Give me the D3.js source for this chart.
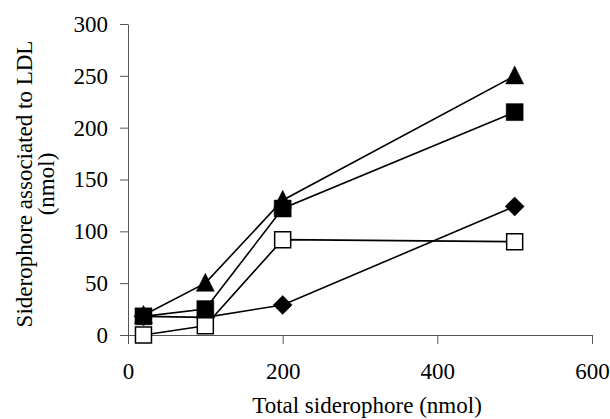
<!DOCTYPE html>
<html lang="en">
<head>
    <meta charset="UTF-8">
    <title>Siderophore associated to LDL</title>
    <script src="https://d3js.org/d3.v7.min.js"></script>
    <style>
        body { margin: 0; background: #fff; }
        text { font-family: "Liberation Serif", "Times New Roman", serif; fill: #000; }
    </style>
</head>
<body>
    <div id="my_dataviz"></div>
<script>
    // Data
    const totalSiderophore = [20, 100, 200, 500];
    const triangleSeries = [19, 50, 130, 250];
    const filledSquareSeries = [18, 25, 122, 215];
    const diamondSeries = [18, 17, 29, 124];
    const openSquareSeries = [0, 9, 92, 90];
    const xTicks = [0, 200, 400, 600];
    const yTicks = [0, 50, 100, 150, 200, 250, 300];

    const W = 610, H = 419;
    const margin = {top: 24, right: 18, bottom: 84, left: 128};

    const svg = d3.select("#my_dataviz")
        .append("svg")
            .attr("width", W)
            .attr("height", H);

    const x = d3.scaleLinear().domain([0, 600]).range([margin.left, W - margin.right]);
    const y = d3.scaleLinear().domain([0, 300]).range([H - margin.bottom, margin.top]);

    // custom marker shapes (Excel-like)
    const triangle = {
        draw(ctx, s) {
            ctx.moveTo(0, -s * 0.55);
            ctx.lineTo(s * 0.5, s * 0.45);
            ctx.lineTo(-s * 0.5, s * 0.45);
            ctx.closePath();
        }
    };
    const square = {
        draw(ctx, s) {
            ctx.rect(-s / 2, -s / 2, s, s);
        }
    };
    const diamond = {
        draw(ctx, s) {
            ctx.moveTo(0, -s / 2);
            ctx.lineTo(s / 2, 0);
            ctx.lineTo(0, s / 2);
            ctx.lineTo(-s / 2, 0);
            ctx.closePath();
        }
    };

    // Y axis
    const yAxis = svg.append("g")
        .attr("transform", `translate(${x(0)},0)`)
        .call(d3.axisLeft(y).tickValues(yTicks).tickSize(8).tickPadding(12).tickSizeOuter(0));

    // X axis
    const xAxis = svg.append("g")
        .attr("transform", `translate(0,${y(0)})`)
        .call(d3.axisBottom(x).tickValues(xTicks).tickSize(9).tickPadding(19).tickSizeOuter(0));

    [xAxis, yAxis].forEach(a => {
        a.attr("font-size", null).attr("font-family", null);
        a.select(".domain").attr("stroke", "#555").attr("stroke-width", 1);
        a.selectAll(".tick line").attr("stroke", "#555").attr("stroke-width", 1);
        a.selectAll(".tick text")
            .style("font-size", "23px")
            .attr("fill", "#000");
    });
    // the y=0 tick line sits on the x axis, extend the x domain left
    yAxis.selectAll(".tick line").attr("x1", 0);

    // Axis titles
    svg.append("text")
        .attr("x", 367)
        .attr("y", 413)
        .attr("text-anchor", "middle")
        .style("font-size", "23px")
        .text("Total siderophore (nmol)");

    const yTitle = svg.append("text")
        .attr("transform", "translate(32,184) rotate(-90)")
        .attr("text-anchor", "middle")
        .style("font-size", "23px");
    yTitle.append("tspan").attr("x", 0).attr("y", 0).text("Siderophore associated to LDL");
    yTitle.append("tspan").attr("x", 0).attr("y", 22).text("(nmol)");

    // marker drawing order follows the overlaps seen in the picture
    const series = [
        {values: diamondSeries, shape: diamond, size: 19, fill: "#000"},
        {values: openSquareSeries, shape: square, size: 16, fill: "#fff"},
        {values: triangleSeries, shape: triangle, size: 18, fill: "#000"},
        {values: filledSquareSeries, shape: square, size: 17, fill: "#000"}
    ];

    const line = d3.line()
        .x((d, i) => x(totalSiderophore[i]))
        .y(d => y(d));

    // lines first, markers on top
    series.forEach(s => {
        svg.append("path")
            .datum(s.values)
            .attr("fill", "none")
            .attr("stroke", "#000")
            .attr("stroke-width", 1.6)
            .attr("d", line);
    });

    series.forEach(s => {
        svg.append("g")
            .selectAll("path")
            .data(s.values)
            .join("path")
                .attr("transform", (d, i) => `translate(${x(totalSiderophore[i])},${y(d)})`)
                .attr("d", d3.symbol().type(s.shape).size(s.size))
                .attr("fill", s.fill)
                .attr("stroke", "#000")
                .attr("stroke-width", s.fill === "#fff" ? 1.5 : 0.5);
    });
</script>
</body>
</html>
